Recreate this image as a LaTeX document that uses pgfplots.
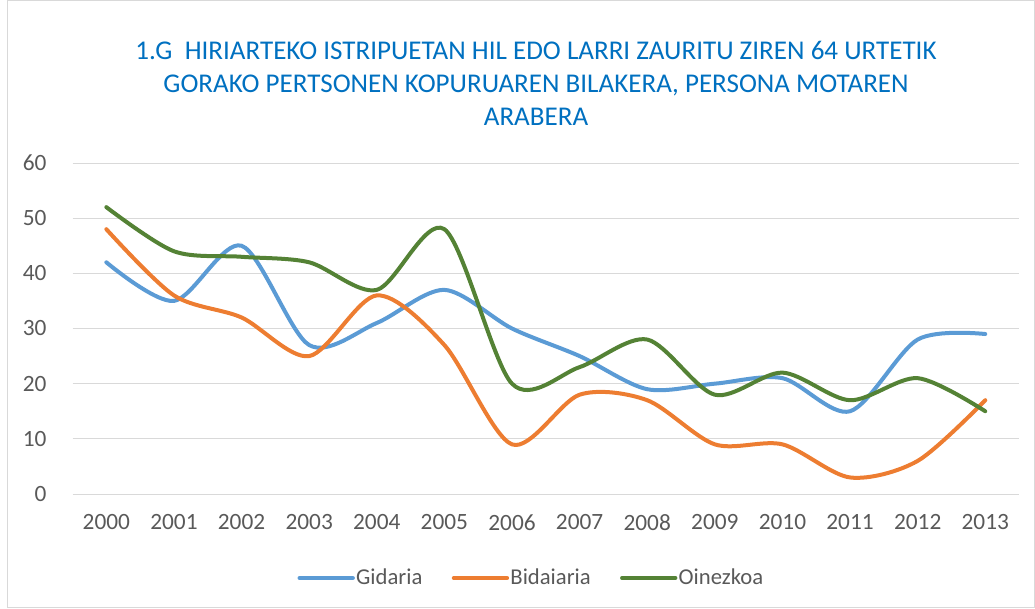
\documentclass[border=0pt]{standalone}
\usepackage{pgfplots}
\pgfplotsset{compat=1.18}
\usepackage{fontspec}
\setmainfont{Carlito}
\definecolor{cblue}{HTML}{5B9BD5}
\definecolor{corange}{HTML}{ED7D31}
\definecolor{cgreen}{HTML}{548235}
\definecolor{ctitle}{HTML}{0070C0}
\definecolor{ctext}{HTML}{595959}
\definecolor{cgrid}{HTML}{D9D9D9}
\begin{document}
\begin{tikzpicture}[x=0.75pt,y=0.75pt]
\path[use as bounding box] (0,0) rectangle (1035,608);
\draw[cgrid, line width=0.75pt] (7,1) rectangle (1034,607);
\node[align=center, text=ctitle, font=\fontsize{20.3}{24.75}\selectfont] at (536,525)
  {1.G\ \ HIRIARTEKO ISTRIPUETAN HIL EDO LARRI ZAURITU ZIREN 64 URTETIK\\GORAKO PERTSONEN KOPURUAREN BILAKERA, PERSONA MOTAREN\\ARABERA};
\begin{axis}[
  at={(54.4pt,85.5pt)}, anchor=south west,
  scale only axis, width=709.9pt, height=248.25pt,
  xmin=-0.5, xmax=13.5, ymin=0, ymax=60,
  xtick={0,...,13},
  xticklabels={2000,2001,2002,2003,2004,2005,2006,2007,2008,2009,2010,2011,2012,2013},
  ytick={0,10,...,60},
  ymajorgrids, grid style={cgrid, line width=0.75pt},
  axis line style={draw=none},
  major tick length=0pt,
  tick label style={text=ctext, font=\fontsize{17.5}{20}\selectfont},
  /pgf/number format/assume math mode=true,
  xticklabel style={yshift=-12pt},
  yticklabel style={xshift=-16pt},
  clip=false,
  legend columns=3,
  legend style={at={(0.4844,-0.2538)}, anchor=center, draw=none, fill=none,
    font=\fontsize{17}{20}\selectfont, text=ctext,
    nodes={inner xsep=1pt},
    /tikz/every odd column/.append style={column sep=0pt},
    /tikz/every even column/.append style={column sep=21pt}},
  legend image code/.code={\draw[#1, line width=3pt, line cap=round] (0pt,0pt) -- (40pt,0pt);},
  every axis plot/.append style={line width=3pt, smooth, tension=0.5, line cap=round, line join=round},
]
\addplot[cblue] coordinates {(0,42)(1,35)(2,45)(3,27)(4,31)(5,37)(6,30)(7,25)(8,19)(9,20)(10,21)(11,15)(12,28)(13,29)};
\addplot[corange] coordinates {(0,48)(1,36)(2,32)(3,25)(4,36)(5,27)(6,9)(7,18)(8,17)(9,9)(10,9)(11,3)(12,6)(13,17)};
\addplot[cgreen] coordinates {(0,52)(1,44)(2,43)(3,42)(4,37)(5,48)(6,20)(7,23)(8,28)(9,18)(10,22)(11,17)(12,21)(13,15)};
\legend{Gidaria,Bidaiaria,Oinezkoa}
\end{axis}
\end{tikzpicture}
\end{document}
